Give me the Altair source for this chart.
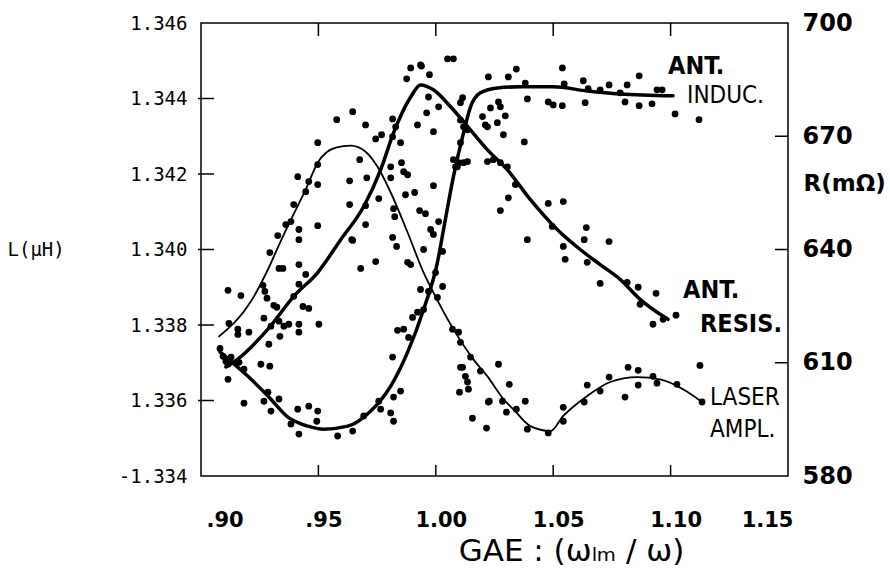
import altair as alt
import pandas as pd

# ---------------- data ----------------
# LASER AMPL. (plotted in L-axis units)
laser_x = [0.9077, 0.9213, 0.9285, 0.9327, 0.9383, 0.9446, 0.9497, 0.9574, 0.9638, 0.9701,
           0.9752, 0.9808, 0.9880, 0.9948, 0.9990, 1.0075, 1.0160, 1.0220, 1.0288, 1.0330,
           1.0403, 1.0488, 1.0543, 1.0645, 1.0743, 1.0857, 1.0955, 1.1053, 1.1134]
laser_l = [1.33770, 1.33863, 1.33947, 1.34005, 1.34079, 1.34159, 1.34230, 1.34270, 1.34275, 1.34259,
           1.34219, 1.34151, 1.34045, 1.33939, 1.33886, 1.33789, 1.33709, 1.33664, 1.33604, 1.33577,
           1.33532, 1.33519, 1.33559, 1.33612, 1.33649, 1.33662, 1.33656, 1.33630, 1.33596]

# ANT. INDUC. (L, uH)
induc_x = [0.9081, 0.9200, 0.9285, 0.9370, 0.9455, 0.9523, 0.9625, 0.9723, 0.9808, 0.9880,
           0.9948, 1.0007, 1.0033, 1.0075, 1.0118, 1.0148, 1.0190, 1.0262, 1.0360, 1.0500,
           1.0645, 1.0785, 1.1010]
induc_l = [1.33729, 1.33664, 1.33612, 1.33556, 1.33532, 1.33524, 1.33532, 1.33572, 1.33638, 1.33728,
           1.33841, 1.33966, 1.34053, 1.34193, 1.34309, 1.34378, 1.34415, 1.34428, 1.34431, 1.34431,
           1.34420, 1.34412, 1.34407]

# ANT. RESIS. (R, mOhm)
resis_x = [0.9106, 0.9140, 0.9285, 0.9395, 0.9497, 0.9595, 0.9693, 0.9765, 0.9820, 0.9893,
           0.9935, 0.9990, 1.0063, 1.0126, 1.0220, 1.0305, 1.0403, 1.0517, 1.0615, 1.0700,
           1.0785, 1.0870, 1.0989]
resis_r = [608.9, 610.2, 618.9, 627.6, 633.9, 642.6, 651.4, 661.1, 670.9, 680.4,
           683.6, 682.3, 677.8, 673.3, 666.4, 661.1, 653.2, 645.3, 640.0, 636.0,
           632.1, 626.8, 621.5]

# measured points (L-axis units)
dot_x = [1.0050, 1.0075, 0.9893, 0.9939, 0.9876, 0.9973, 1.0224, 1.0309, 0.9646, 0.9578,
         0.9701, 0.9497, 0.9816, 0.9829, 0.9744, 0.9769, 0.9816, 0.9850, 0.9922, 0.9961,
         0.9969, 0.9990, 1.0012, 1.0114, 1.0105, 1.0233, 1.0267, 1.0275, 1.0199, 1.0220,
         1.0262, 1.0288, 0.9412, 0.9497, 0.9459, 0.9497, 0.9446, 0.9676, 0.9633, 0.9706,
         0.9808, 0.9854, 0.9863, 0.9880, 0.9757, 0.9808, 0.9990, 0.9910, 0.9871, 1.0097,
         1.0135, 1.0084, 1.0220, 1.0245, 1.0309, 1.0275, 0.9633, 0.9701, 0.9820, 0.9825,
         0.9931, 0.9956, 1.0012, 0.9978, 0.9990, 0.9395, 0.9361, 0.9383, 0.9417, 0.9417,
         0.9497, 0.9327, 0.9642, 0.9701, 0.9816, 0.9833, 0.9293, 0.9332, 0.9349, 0.9417,
         0.9446, 0.9417, 0.9115, 0.9170, 0.9264, 0.9272, 0.9281, 0.9310, 0.9323, 0.9395,
         0.9434, 0.9459, 0.9119, 0.9157, 0.9157, 0.9204, 0.9268, 0.9298, 0.9332, 0.9353,
         0.9374, 0.9417, 0.9417, 0.9502, 0.9336, 0.9289, 0.9081, 0.9094, 0.9106, 0.9128,
         0.9115, 0.9162, 0.9183, 0.9255, 0.9293, 0.9115, 0.9183, 0.9285, 0.9268, 0.9298,
         0.9332, 0.9412, 0.9459, 0.9383, 0.9417, 0.9497, 0.9493, 0.9582, 0.9646, 0.9693,
         0.9765, 0.9757, 0.9808, 0.9820, 0.9820, 0.9850, 0.9816, 0.9837, 0.9863, 0.9884,
         0.9901, 0.9922, 0.9935, 0.9969, 1.0029, 0.9999, 1.0029, 0.9948, 0.9880, 0.9893,
         0.9744, 0.9680, 0.9646, 1.0105, 1.0126, 1.0135, 1.0139, 1.0101, 1.0156, 1.0216,
         1.0224, 1.0267, 1.0284, 1.0301, 0.9935, 1.0343, 1.0539, 1.0628, 1.0381, 1.0547,
         1.0649, 1.0700, 1.0738, 1.0815, 1.0866, 1.0942, 1.0964, 1.0390, 1.0479, 1.0500,
         1.0539, 1.0636, 1.0806, 1.0866, 1.0921, 1.1019, 1.1121, 1.0211, 1.0296, 1.0377,
         1.0275, 1.0305, 1.0339, 1.0479, 1.0543, 1.0390, 1.0496, 1.0641, 1.0543, 1.0632,
         1.0738, 1.0551, 1.0645, 1.0700, 1.0815, 1.0862, 1.0870, 1.0938, 1.0925, 1.0968,
         1.1023, 0.9948, 1.0007, 1.0071, 1.0097, 1.0105, 1.0148, 1.0114, 1.0190, 1.0313,
         1.0228, 1.0343, 1.0381, 1.0390, 1.0479, 1.0543, 1.0543, 1.0632, 1.0645, 1.0700,
         1.0738, 1.0806, 1.0819, 1.0862, 1.0862, 1.0925, 1.0942, 1.1027, 1.1125, 1.1134,
         1.0785, 1.0118, 1.0135, 1.0105, 1.0075, 1.0092, 1.0118, 1.0105]
dot_l = [1.34505, 1.34505, 1.34481, 1.34486, 1.34452, 1.34463, 1.34457, 1.34457, 1.34365, 1.34344,
         1.34330, 1.34283, 1.34346, 1.34325, 1.34293, 1.34304, 1.34299, 1.34283, 1.34330, 1.34362,
         1.34404, 1.34312, 1.34378, 1.34402, 1.34389, 1.34375, 1.34391, 1.34378, 1.34352, 1.34325,
         1.34336, 1.34304, 1.34193, 1.34225, 1.34180, 1.34172, 1.34153, 1.34238, 1.34182, 1.34190,
         1.34219, 1.34230, 1.34206, 1.34198, 1.34135, 1.34190, 1.34169, 1.34151, 1.34145, 1.34230,
         1.34233, 1.34219, 1.34233, 1.34238, 1.34137, 1.34103, 1.34119, 1.34116, 1.34108, 1.34087,
         1.34103, 1.34095, 1.34074, 1.34053, 1.34040, 1.34119, 1.34066, 1.34074, 1.34053, 1.34026,
         1.34063, 1.34037, 1.34026, 1.34066, 1.34032, 1.34008, 1.33992, 1.33950, 1.33950, 1.33960,
         1.33934, 1.33908, 1.33892, 1.33878, 1.33905, 1.33889, 1.33871, 1.33852, 1.33847, 1.33876,
         1.33849, 1.33844, 1.33804, 1.33789, 1.33775, 1.33781, 1.33818, 1.33797, 1.33810, 1.33797,
         1.33802, 1.33802, 1.33781, 1.33802, 1.33770, 1.33749, 1.33738, 1.33717, 1.33704, 1.33715,
         1.33696, 1.33701, 1.33683, 1.33696, 1.33691, 1.33656, 1.33593, 1.33622, 1.33598, 1.33572,
         1.33604, 1.33577, 1.33585, 1.33538, 1.33511, 1.33572, 1.33545, 1.33506, 1.33519, 1.33559,
         1.33577, 1.33598, 1.33567, 1.33545, 1.33609, 1.33625, 1.33715, 1.33786, 1.33789, 1.33767,
         1.33820, 1.33834, 1.33894, 1.33889, 1.33902, 1.33939, 1.33995, 1.34000, 1.33966, 1.33960,
         1.33968, 1.33950, 1.34024, 1.33688, 1.33664, 1.33649, 1.33630, 1.33622, 1.33553, 1.33527,
         1.33596, 1.33696, 1.33598, 1.33569, 1.34489, 1.34478, 1.34481, 1.34447, 1.34441, 1.34439,
         1.34426, 1.34423, 1.34436, 1.34436, 1.34460, 1.34423, 1.34423, 1.34399, 1.34391, 1.34383,
         1.34381, 1.34389, 1.34391, 1.34381, 1.34386, 1.34359, 1.34344, 1.34330, 1.34354, 1.34285,
         1.34230, 1.34219, 1.34172, 1.34122, 1.34127, 1.34026, 1.34061, 1.34058, 1.34008, 1.34026,
         1.34021, 1.33974, 1.33966, 1.33910, 1.33913, 1.33900, 1.33855, 1.33884, 1.33802, 1.33815,
         1.33826, 1.33841, 1.33873, 1.33789, 1.33781, 1.33754, 1.33715, 1.33688, 1.33678, 1.33643,
         1.33598, 1.33577, 1.33598, 1.33524, 1.33514, 1.33582, 1.33545, 1.33596, 1.33641, 1.33625,
         1.33662, 1.33609, 1.33688, 1.33680, 1.33641, 1.33664, 1.33646, 1.33643, 1.33693, 1.33596,
         1.34415, 1.34325, 1.34317, 1.34343, 1.34238, 1.34219, 1.34230, 1.34283]

x_ticks = [0.90, 0.95, 1.00, 1.05, 1.10, 1.15]
l_ticks = [1.334, 1.336, 1.338, 1.340, 1.342, 1.344, 1.346]
r_ticks = [580, 610, 640, 670, 700]
x_inner = [0.95, 1.00, 1.05, 1.10]
l_inner = [1.336, 1.338, 1.340, 1.342, 1.344]
r_inner = [610, 640, 670]

label_bold_text = ["ANT.", "ANT.", "RESIS."]
label_bold_x = [1.0989, 1.1053, 1.1125]
label_bold_l = [1.34486, 1.33893, 1.33803]
label_thin_text = ["INDUC.", "LASER", "AMPL."]
label_thin_x = [1.1070, 1.1168, 1.1168]
label_thin_l = [1.34407, 1.33607, 1.33522]

# ---------------- chart ----------------
W, H = 587, 453
xs = alt.Scale(domain=[0.90, 1.15], nice=False, zero=False)
ls = alt.Scale(domain=[1.334, 1.346], nice=False, zero=False)
rs = alt.Scale(domain=[580, 700], nice=False, zero=False)

laser_df = pd.DataFrame({"x": laser_x, "l": laser_l})
induc_df = pd.DataFrame({"x": induc_x, "l": induc_l})
resis_df = pd.DataFrame({"x": resis_x, "r": resis_r})
dots_df = pd.DataFrame({"x": dot_x, "l": dot_l})

x_axis = alt.Axis(
    values=x_ticks,
    labelExpr="datum.value < 0.999 ? replace(format(datum.value, '.2f'), '0.', '.') : format(datum.value, '.2f')",
    labelFont="DejaVu Sans", labelFontWeight="bold", labelFontSize=21, labelColor="black",
    labelPadding=33, labelOffset=5, ticks=False, domain=False, grid=False,
    title="GAE : (ωₗₘ / ω)", titleFont="DejaVu Sans", titleFontSize=31, titleFontWeight="normal",
    titleColor="black", titleX=370, titleY=75, titleAlign="center", titleBaseline="middle",
)
l_axis = alt.Axis(
    values=l_ticks,
    labelExpr="datum.value < 1.3345 ? '-1.334' : format(datum.value, '.3f')",
    labelFont="DejaVu Sans Mono", labelFontSize=19, labelColor="black", labelPadding=14,
    ticks=False, domain=False, grid=False,
    title="L(μH)", titleAngle=0, titleFont="DejaVu Sans Mono", titleFontSize=19,
    titleFontWeight="normal", titleColor="black", titleX=-194, titleY=226,
    titleAlign="left", titleBaseline="middle",
)
r_axis = alt.Axis(
    orient="right", values=r_ticks,
    labelFont="DejaVu Sans", labelFontWeight="bold", labelFontSize=24, labelColor="black",
    labelPadding=14, ticks=False, domain=False, grid=False,
    title="R(mΩ)", titleAngle=0, titleFont="DejaVu Sans", titleFontSize=23,
    titleFontWeight="bold", titleColor="black", titleX=15, titleY=160,
    titleAlign="left", titleBaseline="middle",
)

laser = alt.Chart(laser_df).mark_line(
    color="black", strokeWidth=1.8, interpolate="monotone", strokeCap="round"
).encode(
    x=alt.X("x:Q", scale=xs, axis=x_axis),
    y=alt.Y("l:Q", scale=ls, axis=l_axis),
)
induc = alt.Chart(induc_df).mark_line(
    color="black", strokeWidth=3.5, interpolate="monotone", strokeCap="round"
).encode(
    x=alt.X("x:Q", scale=xs),
    y=alt.Y("l:Q", scale=ls),
)
dots = alt.Chart(dots_df).mark_circle(color="black", opacity=1, size=46).encode(
    x=alt.X("x:Q", scale=xs),
    y=alt.Y("l:Q", scale=ls),
)
lt = alt.Chart(pd.DataFrame({"v": l_inner})).mark_rule(color="black", strokeWidth=1.5).encode(
    y=alt.Y("v:Q", scale=ls), x=alt.value(-3), x2=alt.value(13)
)
bt = alt.Chart(pd.DataFrame({"v": x_inner})).mark_rule(color="black", strokeWidth=1.5).encode(
    x=alt.X("v:Q", scale=xs), y=alt.value(H), y2=alt.value(H - 11)
)
tt = alt.Chart(pd.DataFrame({"v": x_inner})).mark_rule(color="black", strokeWidth=1.5).encode(
    x=alt.X("v:Q", scale=xs), y=alt.value(0), y2=alt.value(13)
)
lab_font = "Liberation Sans Narrow, DejaVu Sans Condensed, Liberation Sans"
lab_b = alt.Chart(pd.DataFrame({"t": label_bold_text, "x": label_bold_x, "l": label_bold_l})).mark_text(
    align="left", baseline="middle", font=lab_font, fontSize=25, fontWeight="bold", color="black"
).encode(x=alt.X("x:Q", scale=xs), y=alt.Y("l:Q", scale=ls), text="t:N")
lab_t = alt.Chart(pd.DataFrame({"t": label_thin_text, "x": label_thin_x, "l": label_thin_l})).mark_text(
    align="left", baseline="middle", font=lab_font, fontSize=24, fontWeight="normal", color="black"
).encode(x=alt.X("x:Q", scale=xs), y=alt.Y("l:Q", scale=ls), text="t:N")

left_group = alt.layer(laser, induc, dots, lt, bt, tt, lab_b, lab_t)

resis = alt.Chart(resis_df).mark_line(
    color="black", strokeWidth=3.5, interpolate="monotone", strokeCap="round"
).encode(
    x=alt.X("x:Q", scale=xs),
    y=alt.Y("r:Q", scale=rs, axis=r_axis),
)
rt = alt.Chart(pd.DataFrame({"v": r_inner})).mark_rule(color="black", strokeWidth=1.5).encode(
    y=alt.Y("v:Q", scale=rs), x=alt.value(W - 13), x2=alt.value(W)
)
right_group = alt.layer(resis, rt)

chart = alt.layer(left_group, right_group).resolve_scale(y="independent").properties(
    width=W, height=H,
    autosize=alt.AutoSizeParams(type="none"),
    padding={"left": 201, "top": 23, "right": 102, "bottom": 101},
    background="white",
).configure_view(stroke="black", strokeWidth=1.5)

chart.save("out.html", embed_options={"renderer": "svg", "actions": False})
